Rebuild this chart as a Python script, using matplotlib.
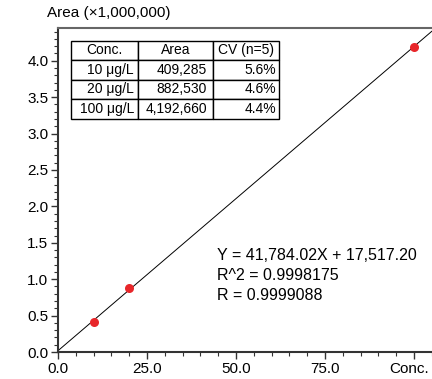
import matplotlib
matplotlib.use("Agg")
import matplotlib.pyplot as plt
from matplotlib.ticker import MultipleLocator, FormatStrFormatter
from matplotlib.transforms import ScaledTranslation

plt.rcParams['font.family'] = ['Liberation Sans', 'DejaVu Sans']

# data
conc = [10, 20, 100]
area = [409285, 882530, 4192660]
cv = ["5.6%", "4.6%", "4.4%"]
slope = 41784.02
intercept = 17517.20
r2 = 0.9998175
r = 0.9999088
scale = 1e6

fig = plt.figure(figsize=(4.32, 3.79), dpi=100)
ax = fig.add_axes([58/432, 27/379, 374/432, 324/379])

# regression line + measured points
xs = [0, 105]
ax.plot(xs, [(slope*x + intercept)/scale for x in xs], color='black', lw=0.7, zorder=2)
ax.plot(conc, [a/scale for a in area], 'o', color='#e8262a', ms=6.5, mec='none', zorder=3)

ax.set_xlim(0, 374/3.56)
ax.set_ylim(0, 4.45)
ax.xaxis.set_minor_locator(MultipleLocator(5))
ax.yaxis.set_major_locator(MultipleLocator(0.5))
ax.yaxis.set_minor_locator(MultipleLocator(0.1))
ax.set_xticks([0, 25, 50, 75, 100])
ax.set_xticklabels(['0.0', '25.0', '50.0', '75.0', 'Conc.'])
ax.yaxis.set_major_formatter(FormatStrFormatter('%.1f'))
ax.tick_params(which='major', length=5, width=1, labelsize=11, color='#333333', pad=2)
ax.tick_params(which='minor', length=3, width=0.8, color='#333333')
# pull the last label ("Conc.") a bit left so it stays inside the figure
last = ax.get_xticklabels()[-1]
last.set_transform(last.get_transform() + ScaledTranslation(-0.045, 0, fig.dpi_scale_trans))

for s in ['left', 'bottom']:
    ax.spines[s].set_color('#333333')
    ax.spines[s].set_linewidth(1.5)
ax.spines['top'].set_color('#666666')
ax.spines['top'].set_linewidth(1.5)
ax.spines['right'].set_visible(False)

fig.text(47/432, 1 - 13/379, 'Area (\u00d71,000,000)', fontsize=11, va='center', ha='left')

# summary table
cells = [["%d \u03bcg/L" % c, "{:,}".format(a), v] for c, a, v in zip(conc, area, cv)]
tab = ax.table(cellText=cells, colLabels=['Conc.', 'Area', 'CV (n=5)'],
               bbox=[13/374, (352-118.7)/324, 208/374, 78/324],
               colWidths=[67, 75, 66], cellLoc='right')
tab.auto_set_font_size(False)
pads = [0.06, 0.08, 0.045]
for (i, j), cell in tab.get_celld().items():
    cell.set_fontsize(10)
    cell.set_linewidth(1)
    cell.set_edgecolor('black')
    cell.PAD = pads[j]
    if i == 0:
        cell._loc = 'center'
        cell.get_text().set_ha('center')

lines = ["Y = {:,.2f}X + {:,.2f}".format(slope, intercept),
         "R^2 = {}".format(r2),
         "R = {}".format(r)]
ys = [255, 275, 295]
for s, y in zip(lines, ys):
    ax.text((217-58)/374, (352-y)/324, s, transform=ax.transAxes,
            fontsize=11.5, va='center', ha='left')

fig.savefig('out.png', dpi=100)
